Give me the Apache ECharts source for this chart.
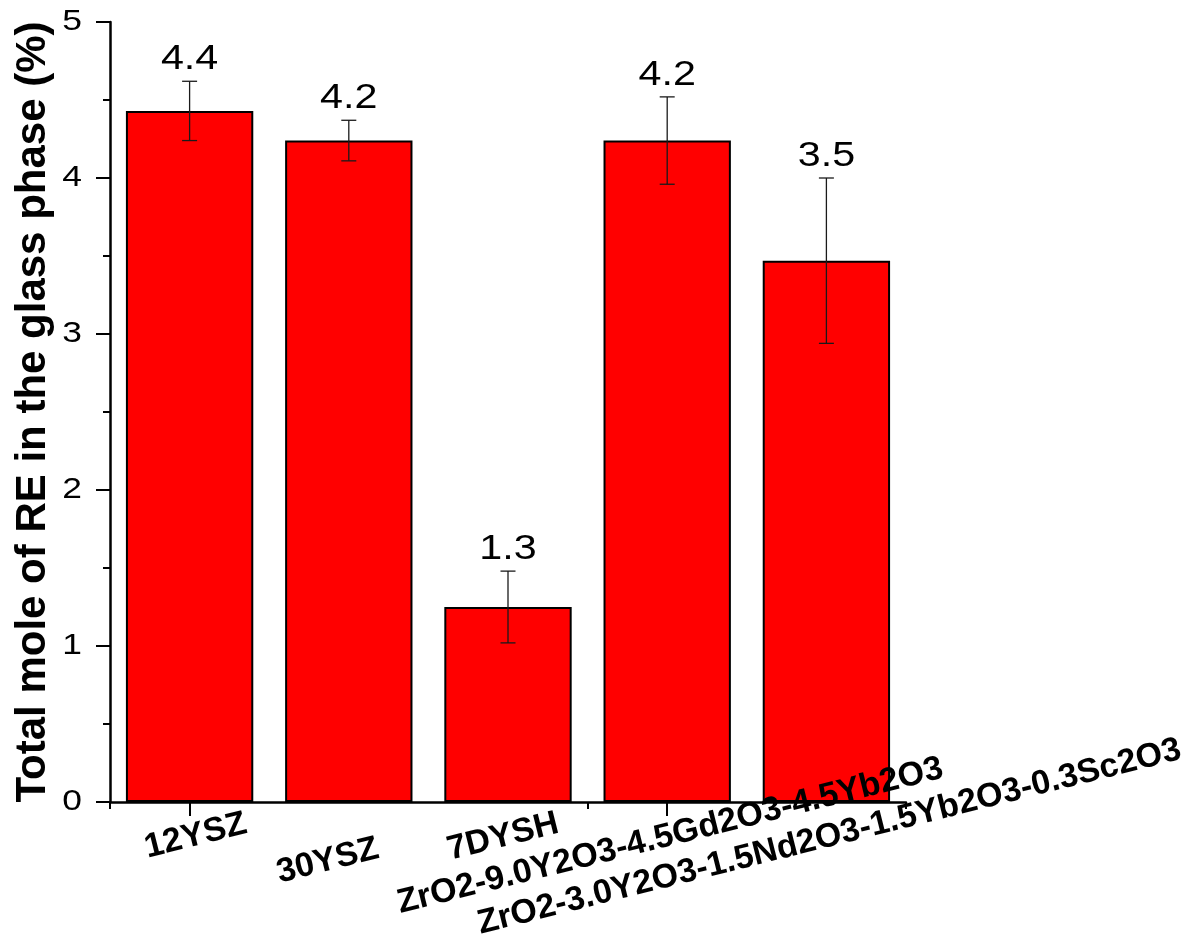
<!DOCTYPE html>
<html>
<head>
<meta charset="utf-8">
<script src="https://cdn.jsdelivr.net/npm/echarts@6/dist/echarts.min.js"></script>
<style>
  html, body { margin: 0; padding: 0; background: #fff; }
  #chart { width: 1189px; height: 940px; }
</style>
</head>
<body>
<div id="chart"></div>
<script>
// Coating compositions
const categories = [
  '12YSZ',
  '30YSZ',
  '7DYSH',
  'ZrO2-9.0Y2O3-4.5Gd2O3-4.5Yb2O3',
  'ZrO2-3.0Y2O3-1.5Nd2O3-1.5Yb2O3-0.3Sc2O3'
];
// Total mole of RE in the glass phase (%) and its standard deviation
const reMole = [4.43, 4.24, 1.25, 4.24, 3.47];
const reMoleErr = [0.19, 0.13, 0.23, 0.28, 0.53];
// Value axis ticks
const yTicks = [0, 1, 2, 3, 4, 5];

// Placement of the slanted category names relative to each tick foot (dx, dy)
const labelNudge = [[6, 34], [-21, 59], [-5, 35], [3, 34], [3, 35]];

const FONT = '"Liberation Sans", Arial, Helvetica, sans-serif';
const WIDE = 1.18; // horizontal stretch of the numeric labels
const chart = echarts.init(document.getElementById('chart'), null, { renderer: 'canvas' });

const option = {
  backgroundColor: '#ffffff',
  animation: false,
  grid: { left: 110, right: 283, top: 22, bottom: 138, containLabel: false },
  xAxis: [
    {
      type: 'category',
      data: categories,
      position: 'bottom',
      axisLine: { show: true, lineStyle: { color: '#000', width: 2.5 } },
      axisTick: { show: true, alignWithLabel: true, inside: false, length: 14, lineStyle: { color: '#000', width: 2 } },
      axisLabel: { show: false },
      splitLine: { show: false }
    },
    {
      // boundary ticks between categories
      type: 'category',
      data: categories,
      position: 'bottom',
      axisLine: { show: false },
      axisTick: { show: true, alignWithLabel: false, inside: false, length: 7, lineStyle: { color: '#000', width: 2 } },
      axisLabel: { show: false },
      splitLine: { show: false }
    }
  ],
  yAxis: {
    type: 'value',
    min: yTicks[0],
    max: yTicks[yTicks.length - 1],
    interval: yTicks[1] - yTicks[0],
    name: 'Total mole of RE in the glass phase (%)',
    nameLocation: 'middle',
    nameGap: 56,
    nameTextStyle: { fontFamily: FONT, fontSize: 42, fontWeight: 'bold', color: '#000' },
    axisLine: { show: true, lineStyle: { color: '#000', width: 2.5 } },
    axisTick: { show: true, inside: false, length: 14, lineStyle: { color: '#000', width: 2 } },
    minorTick: { show: true, splitNumber: 2, length: 7, lineStyle: { color: '#000', width: 2 } },
    splitLine: { show: false },
    axisLabel: { show: false }
  },
  series: [
    {
      type: 'bar',
      data: reMole,
      barWidth: '80%',
      itemStyle: { color: '#ff0000', borderColor: '#000', borderWidth: 2 },
      z: 2
    },
    {
      type: 'custom',
      data: categories.map((c, i) => [i, reMole[i], reMoleErr[i]]),
      z: 5,
      renderItem: function (params, api) {
        const i = api.value(0);
        const m = api.value(1);
        const e = api.value(2);
        const top = api.coord([i, m + e]);
        const bot = api.coord([i, m - e]);
        const cap = 7.5;
        const stroke = { stroke: '#1a1a1a', lineWidth: 1.3 };
        return {
          type: 'group',
          children: [
            { type: 'line', shape: { x1: top[0], y1: top[1], x2: bot[0], y2: bot[1] }, style: stroke },
            { type: 'line', shape: { x1: top[0] - cap, y1: top[1], x2: top[0] + cap, y2: top[1] }, style: stroke },
            { type: 'line', shape: { x1: bot[0] - cap, y1: bot[1], x2: bot[0] + cap, y2: bot[1] }, style: stroke },
            {
              type: 'text',
              x: top[0],
              y: top[1] - 4,
              scaleX: WIDE,
              style: {
                text: m.toFixed(1),
                fontFamily: FONT, fontSize: 35, fill: '#000',
                align: 'center', verticalAlign: 'bottom'
              }
            }
          ]
        };
      }
    }
  ]
};

chart.setOption(option);

const graphics = [];

// Slanted category names placed at the category ticks
const y0 = chart.convertToPixel({ yAxisIndex: 0 }, 0);
categories.forEach((c, i) => {
  const x = chart.convertToPixel({ xAxisIndex: 0 }, i);
  graphics.push({
    type: 'text',
    x: x + labelNudge[i][0],
    y: y0 + labelNudge[i][1],
    rotation: 14 * Math.PI / 180,
    z: 10,
    style: {
      text: c,
      fontFamily: FONT, fontSize: 34, fontWeight: 'bold', fill: '#000',
      align: 'center', verticalAlign: 'middle'
    }
  });
});

// Value axis tick labels
const xAxisLeft = chart.convertToPixel({ xAxisIndex: 0 }, 0) - (chart.convertToPixel({ xAxisIndex: 0 }, 1) - chart.convertToPixel({ xAxisIndex: 0 }, 0)) / 2;
yTicks.forEach(v => {
  graphics.push({
    type: 'text',
    x: xAxisLeft - 28,
    y: chart.convertToPixel({ yAxisIndex: 0 }, v),
    scaleX: WIDE,
    z: 10,
    style: {
      text: String(v),
      fontFamily: FONT, fontSize: 30, fill: '#000',
      align: 'right', verticalAlign: 'middle'
    }
  });
});

chart.setOption({ graphic: graphics });
</script>
</body>
</html>
